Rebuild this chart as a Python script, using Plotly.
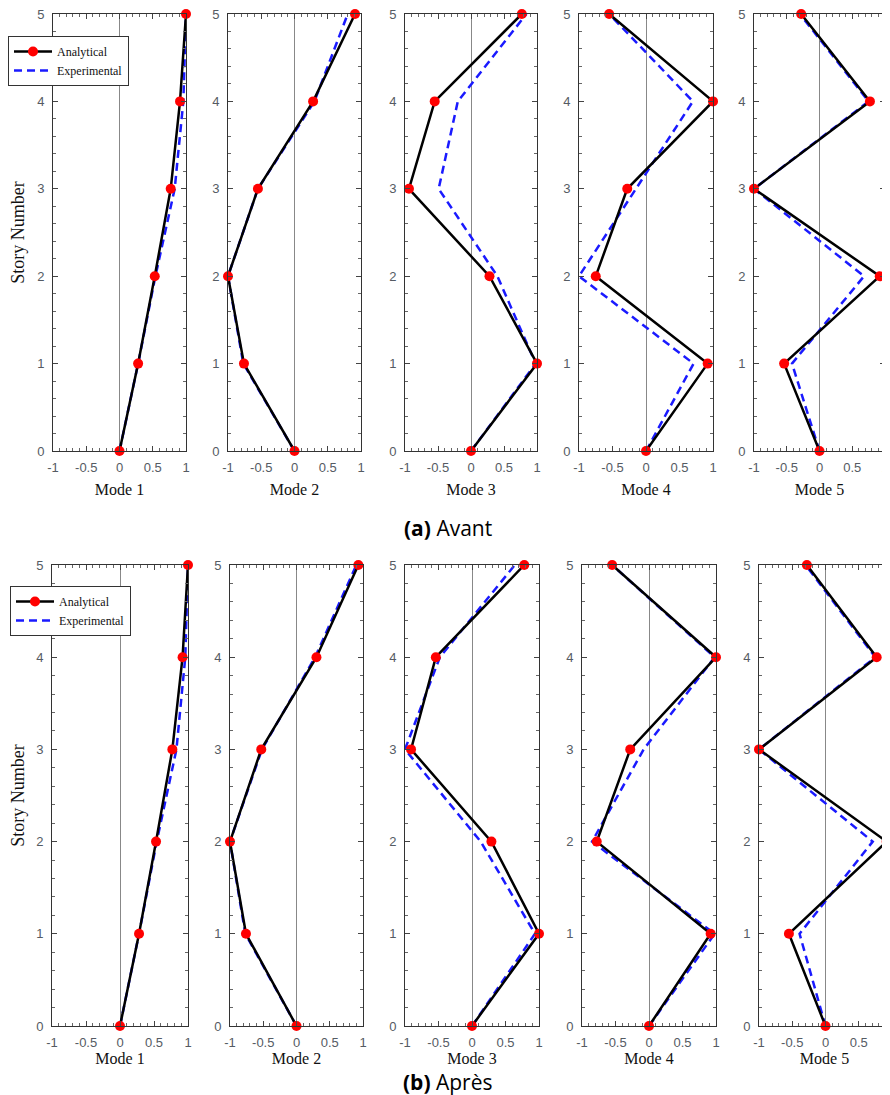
import plotly.graph_objects as go

# page body has an 8px margin, so the figure is sized to the visible window
OFF = 8
W, H = 890 - OFF, 1095 - OFF

stories = [0, 1, 2, 3, 4, 5]
mode_names = ["Mode 1", "Mode 2", "Mode 3", "Mode 4", "Mode 5"]

# (a) Avant
avant_analytical_m1 = [0, 0.28, 0.53, 0.77, 0.91, 1.0]
avant_analytical_m2 = [0, -0.76, -1.0, -0.55, 0.28, 0.91]
avant_analytical_m3 = [0, 1.0, 0.28, -0.94, -0.55, 0.77]
avant_analytical_m4 = [0, 0.92, -0.75, -0.28, 1.0, -0.55]
avant_analytical_m5 = [0, -0.54, 0.92, -1.0, 0.77, -0.28]

avant_experimental_m1 = [0, 0.28, 0.54, 0.83, 0.96, 1.0]
avant_experimental_m2 = [0, -0.77, -1.0, -0.55, 0.30, 0.80]
avant_experimental_m3 = [0, 0.98, 0.40, -0.49, -0.20, 0.84]
avant_experimental_m4 = [0, 0.71, -1.0, -0.15, 0.70, -0.55]
avant_experimental_m5 = [0, -0.42, 0.68, -1.0, 0.75, -0.30]

# (b) Après
apres_analytical_m1 = [0, 0.28, 0.53, 0.77, 0.92, 1.0]
apres_analytical_m2 = [0, -0.76, -1.0, -0.53, 0.30, 0.93]
apres_analytical_m3 = [0, 1.0, 0.29, -0.91, -0.54, 0.78]
apres_analytical_m4 = [0, 0.92, -0.78, -0.28, 1.0, -0.55]
apres_analytical_m5 = [0, -0.55, 0.92, -1.0, 0.77, -0.28]

apres_experimental_m1 = [0, 0.28, 0.54, 0.83, 0.96, 1.0]
apres_experimental_m2 = [0, -0.77, -1.0, -0.52, 0.28, 0.90]
apres_experimental_m3 = [0, 0.94, 0.13, -1.0, -0.48, 0.64]
apres_experimental_m4 = [0, 0.98, -0.85, -0.08, 0.98, -0.55]
apres_experimental_m5 = [0, -0.39, 0.71, -1.0, 0.75, -0.30]

x_tickvals = [-1, -0.5, 0, 0.5, 1]
x_ticktext = ["-1", "-0.5", "0", "0.5", "1"]
y_tickvals = [0, 1, 2, 3, 4, 5]

rows = [
    dict(analytical=[avant_analytical_m1, avant_analytical_m2, avant_analytical_m3,
                     avant_analytical_m4, avant_analytical_m5],
         experimental=[avant_experimental_m1, avant_experimental_m2, avant_experimental_m3,
                       avant_experimental_m4, avant_experimental_m5],
         xpix=[(53, 186), (228, 361), (405, 537), (579, 713), (754, 885)],
         ypix=(14, 451), caption="<b>(a)</b> Avant", cap_y=528, title_standoff=10,
         legend="legend", leg_box=(8, 36)),
    dict(analytical=[apres_analytical_m1, apres_analytical_m2, apres_analytical_m3,
                     apres_analytical_m4, apres_analytical_m5],
         experimental=[apres_experimental_m1, apres_experimental_m2, apres_experimental_m3,
                       apres_experimental_m4, apres_experimental_m5],
         xpix=[(52, 188), (230, 363), (405, 539), (582, 716), (759, 892)],
         ypix=(565, 1026), caption="<b>(b)</b> Après", cap_y=1082, title_standoff=3,
         legend="legend2", leg_box=(10, 586)),
]

fig = go.Figure()
layout = dict(
    width=W, height=H,
    margin=dict(l=0, r=0, t=0, b=0, autoexpand=False),
    paper_bgcolor="white", plot_bgcolor="white",
    showlegend=True,
    annotations=[],
)

tick_font = dict(family="Liberation Sans, Arial, sans-serif", size=13, color="#555b63")
title_font = dict(family="Liberation Serif, Times New Roman, serif", size=16, color="#111111")


def px_x(p):
    return (p - OFF) / W


def px_y(p):
    return 1 - (p - OFF) / H


idx = 0
for r, row in enumerate(rows):
    y0p, y1p = row["ypix"]
    ydom = [px_y(y1p), px_y(y0p)]
    for c in range(5):
        idx += 1
        xa = "x" if idx == 1 else f"x{idx}"
        ya = "y" if idx == 1 else f"y{idx}"
        xkey = "xaxis" if idx == 1 else f"xaxis{idx}"
        ykey = "yaxis" if idx == 1 else f"yaxis{idx}"
        x0p, x1p = row["xpix"][c]
        x1c = min(x1p, W + OFF)
        xmax = -1 + 2 * (x1c - x0p) / (x1p - x0p)
        # experimental (dashed)
        fig.add_trace(go.Scatter(
            x=row["experimental"][c], y=stories, xaxis=xa, yaxis=ya,
            mode="lines", name="Experimental",
            line=dict(color="#1a1aff", width=2.5, dash="8px,5px"),
            legend=row["legend"], legendrank=2, showlegend=(c == 0),
            cliponaxis=False,
        ))
        # analytical (solid + markers)
        fig.add_trace(go.Scatter(
            x=row["analytical"][c], y=stories, xaxis=xa, yaxis=ya,
            mode="lines+markers", name="Analytical",
            line=dict(color="black", width=2.5),
            marker=dict(color="#ff0000", size=10, line=dict(width=0)),
            legend=row["legend"], legendrank=1, showlegend=(c == 0),
            cliponaxis=False,
        ))
        layout[xkey] = dict(
            domain=[px_x(x0p), px_x(x1c)], anchor=ya, range=[-1, xmax],
            tickmode="array", tickvals=x_tickvals, ticktext=x_ticktext,
            ticks="inside", ticklen=5, tickwidth=1, tickcolor="#444",
            minor=dict(ticks="inside", dtick=0.1, tick0=0, ticklen=3, tickcolor="#666"),
            showline=True, linecolor="#333", linewidth=1, mirror="ticks",
            showgrid=False, zeroline=True, zerolinecolor="#888", zerolinewidth=1,
            tickfont=tick_font, ticklabelstandoff=4, automargin=False,
            ticklabeloverflow="allow",
            title=dict(text=mode_names[c], font=title_font, standoff=row["title_standoff"]),
        )
        layout[ykey] = dict(
            domain=ydom, anchor=xa, range=[0, 5],
            tickmode="array", tickvals=y_tickvals,
            ticks="inside", ticklen=5, tickwidth=1, tickcolor="#444",
            minor=dict(ticks="inside", dtick=0.2, tick0=0, ticklen=3, tickcolor="#666"),
            showline=True, linecolor="#333", linewidth=1, mirror="ticks",
            showgrid=False, zeroline=False, automargin=False,
            ticklabeloverflow="allow",
            tickfont=tick_font, ticklabelstandoff=5,
        )
        if c == 0:
            layout[ykey]["title"] = dict(text="Story Number", font=dict(
                family="Liberation Serif, Times New Roman, serif", size=18, color="#111111"),
                standoff=10)
    lx, ly = row["leg_box"]
    layout[row["legend"]] = dict(
        x=px_x(lx), y=px_y(ly), xanchor="left", yanchor="top",
        bgcolor="white", bordercolor="#333", borderwidth=1,
        font=dict(family="Liberation Serif, Times New Roman, serif", size=12, color="#111"),
        itemwidth=38, tracegroupgap=0,
    )
    layout["annotations"].append(dict(
        text=row["caption"], xref="paper", yref="paper",
        x=px_x(448), y=px_y(row["cap_y"]), xanchor="center", yanchor="middle",
        showarrow=False, font=dict(family="Open Sans, Noto Sans, sans-serif", size=21, color="black"),
    ))

fig.update_layout(**layout)
fig.write_html("out.html")
